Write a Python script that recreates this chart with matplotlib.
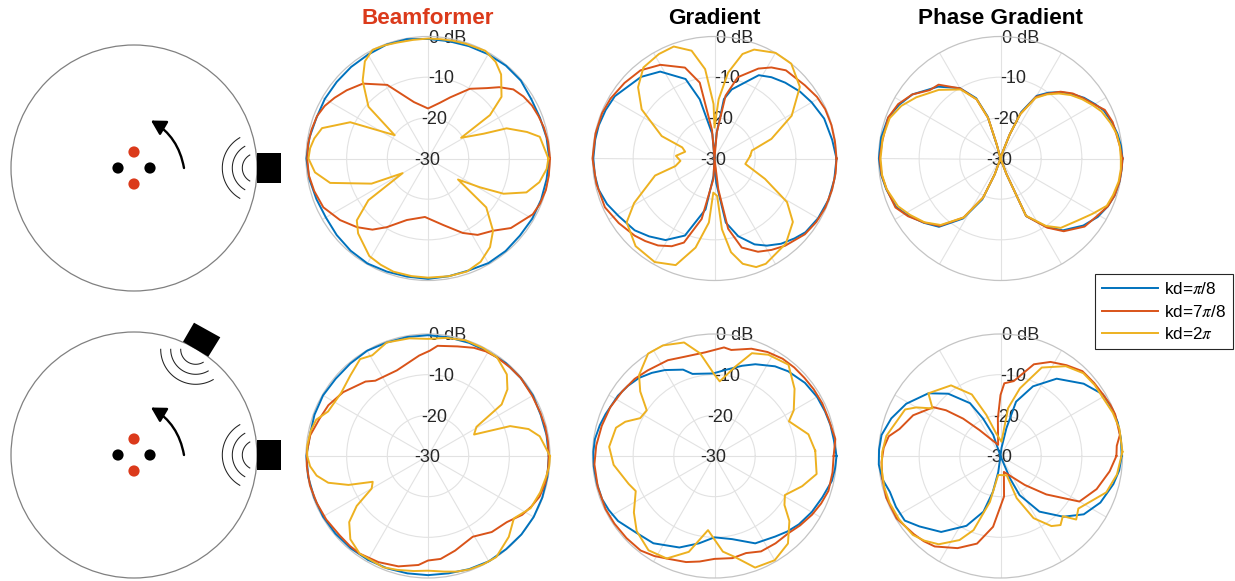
import numpy as np
import matplotlib
matplotlib.use("Agg")
import matplotlib.pyplot as plt
from matplotlib.lines import Line2D
from matplotlib.patches import Circle, FancyArrowPatch, Polygon, Rectangle

plt.rcParams['font.family'] = ['Liberation Sans', 'DejaVu Sans']
plt.rcParams['mathtext.fontset'] = 'stix'

W, H = 1235, 581
BLUE, RED, YELLOW = '#0072BD', '#D95319', '#EDB120'

titles = ['Beamformer', 'Gradient', 'Phase Gradient']
r_labels = ['0 dB', '-10', '-20', '-30']
r_values = [0, -10, -20, -30]
legend_labels = ['kd=$\\pi$/8', 'kd=7$\\pi$/8', 'kd=2$\\pi$']

# beamformer, top row
bf1_blue_th = list(range(0, 360, 10))
bf1_blue_db = [-0.2, -0.4, -0.7, -0.7, -0.2, -0.2, -0.4, -0.6, -0.7, -0.6, -0.2, -0.2, -0.5, -0.6, -0.7, -0.7, -0.8, -0.4, -0.1, -0.4, -0.8, -1, -0.7, -0.4, -0.2, -0.4, -0.5, -0.4, -0.6, -0.7, -0.3, -0.3, -0.5, -0.4, -0.4, -0.4]
bf1_red_th = [0, 8, 15, 21, 27, 33, 39, 45, 50, 59, 70, 78, 90, 104, 119, 131, 140, 147, 153, 159, 166, 173, 180, 188, 196, 205, 215, 224, 232, 239, 251, 267, 283, 295, 303, 312, 320, 332, 338, 345, 352]
bf1_red_db = [0, -0.2, -0.5, -0.9, -1.3, -2, -3, -5.2, -7.4, -10, -14, -16, -17.7, -15.7, -9.3, -5.6, -3.9, -2.6, -1.5, -0.8, -0.5, -0.3, -0.3, -0.4, -0.9, -1.6, -3.6, -5.7, -7.8, -10.3, -14, -15.6, -13.2, -9.8, -7.6, -6.1, -3.4, -0.8, -0.3, 0, 0]
bf1_yel_th = [0, 11, 15, 21, 24, 32, 35, 40, 49, 55, 62, 72, 78, 84, 90, 97, 105, 111, 117, 123, 130, 139, 145, 155, 164, 170, 175, 180, 187, 194, 204, 210, 215, 221, 227, 239, 246, 253, 262, 270, 280, 289, 297, 305, 312, 320, 325, 331, 335, 341, 348, 355]
bf1_yel_db = [-0.4, -2, -4.8, -9.3, -15, -20.4, -11.4, -6.4, -2.6, -1, 0, -0.3, -0.4, -0.5, -0.5, -0.6, -0.5, -0.2, 0, -1.5, -5, -10.6, -20, -8.9, -2.9, -1.6, -0.9, -0.6, -2, -5.2, -14.8, -22.8, -12.1, -6.8, -4.8, -2, -1.4, -0.9, -0.8, -0.7, -0.6, -0.6, -1.5, -3.4, -6.1, -11.3, -21, -15.4, -9.5, -4.4, -2, -0.7]

# gradient, top row
gr1_blue_th = [0, 9, 20, 30, 38, 47, 55, 62, 76, 81, 85, 88, 90, 95, 104, 110, 122, 132, 148, 156, 164, 171, 180, 188, 195, 203, 211, 222, 230, 239, 249, 260, 267, 270, 274, 280, 287, 295, 301, 308, 315, 321, 330, 340, 350]
gr1_blue_db = [0, -0.7, -1.3, -2.4, -3.3, -4.5, -5.6, -6.8, -12.5, -15.2, -23.6, -28, -30, -24, -15, -9.2, -4.8, -3, -1.1, -0.7, -0.4, -0.3, -0.2, -0.3, -0.5, -1.3, -2.5, -3.6, -5, -6.6, -9.7, -17.3, -25.7, -30, -24, -14, -10, -6.7, -5, -3.4, -2.2, -1.2, -0.6, -0.2, -0.1]
gr1_red_th = [0, 8, 16, 24, 31, 39, 51, 58, 64, 74, 80, 85, 90, 95, 101, 108, 120, 130, 140, 150, 158, 168, 180, 192, 204, 214, 224, 230, 237, 244, 250, 258, 267, 270, 277, 281, 287, 295, 302, 309, 320, 328, 336, 345, 353]
gr1_red_db = [0, -0.1, -0.1, -0.2, -0.6, -1.4, -2.1, -3.6, -5.4, -9.2, -14.3, -23.6, -30, -23, -11, -6.5, -3.4, -1.7, -1.1, -0.5, -0.2, -0.1, 0, -0.3, -0.5, -1.6, -2.7, -3.5, -4.5, -6, -8, -14.8, -25, -30, -22.4, -12.4, -7.1, -4.7, -3.5, -2.4, -1, -0.5, -0.2, -0.1, 0]
gr1_yel_th = [4, 12, 19, 29, 40, 51, 60, 70, 75, 81, 86, 90, 91, 96, 102, 110, 118, 128, 137, 146, 157, 161, 167, 176, 184, 191, 196, 209, 216, 228, 240, 250, 258, 265, 268, 274, 276, 280, 285, 291, 296, 310, 321, 329, 338, 350]
gr1_yel_db = [-21.2, -20.6, -15.2, -8.3, -2.6, 0, 0, -1.5, -3.4, -8.6, -15.4, -22.4, -16.6, -7.9, -2.9, -0.7, -0.9, -1.6, -4.3, -8.4, -15.9, -21.6, -22.6, -20.5, -21.6, -20.2, -14.8, -7.4, -3.3, -1, -0.6, -2.1, -7.6, -14.2, -21.6, -20.8, -12.5, -6.6, -3.2, -1.4, -1.2, -2.7, -5.2, -9.2, -16.6, -22.3]

# phase gradient, top row
pg1_blue_th = [0, 6, 12, 18, 25, 30, 36, 42, 48, 54, 60, 66, 69, 71, 90, 105, 107, 112, 120, 131, 144, 152, 160, 170, 180, 188, 195, 205, 212, 220, 228, 238, 246, 250, 270, 291, 294, 304, 311, 321, 329, 336, 342, 349, 355]
pg1_blue_db = [0, -0.2, -0.6, -1.2, -2, -3.2, -4.6, -6.3, -8, -10, -12.2, -17.5, -23.6, -28, -30, -27, -19.2, -14, -10, -6.6, -3.2, -1.8, -0.6, -0.2, -0.1, -0.4, -0.9, -1.7, -3.4, -5.4, -7.4, -12.6, -19, -25.9, -30, -25.9, -14.5, -9.7, -6.6, -3.8, -2.1, -1.1, -0.5, -0.2, -0.1]
pg1_red_th = [0, 6, 12, 18, 25, 30, 36, 42, 48, 54, 60, 66, 69, 71, 90, 105, 107, 112, 120, 130, 136, 144, 152, 160, 172, 180, 188, 195, 205, 212, 220, 228, 238, 246, 250, 270, 291, 294, 304, 311, 321, 329, 336, 342, 349, 355]
pg1_red_db = [0, -0.5, -0.9, -1, -1.7, -3.4, -4.8, -6.1, -7.9, -10.3, -12.5, -18, -23.6, -28, -30, -26.3, -19.6, -14.3, -10.1, -6.3, -5.8, -3.2, -1.5, -0.6, -0.6, -0.3, -0.5, -1, -1.5, -3.2, -5.5, -7.7, -12.9, -19.5, -25.9, -30, -25.9, -14.5, -9.5, -6.3, -3.4, -2.4, -1.1, -0.5, -0.2, -0.1]
pg1_yel_th = [0, 6, 12, 18, 25, 30, 36, 42, 48, 54, 60, 66, 69, 71, 90, 105, 107, 112, 120, 132, 144, 152, 160, 170, 180, 188, 195, 205, 212, 220, 228, 238, 246, 250, 270, 291, 294, 304, 311, 321, 329, 336, 342, 349, 355]
pg1_yel_db = [-0.4, -0.5, -0.8, -1.6, -2.6, -3.8, -5.2, -6.7, -8.5, -10.5, -12.8, -18.1, -23.6, -28, -30, -26.3, -19.6, -14.3, -10.4, -7.3, -4.4, -2.4, -1, -0.6, -0.5, -0.6, -1, -2.2, -3.8, -5.6, -8, -12.9, -19.5, -25.9, -30, -25.9, -14.6, -10, -7.4, -5.7, -3.6, -1.4, -0.9, -0.4, -0.3]

# beamformer, bottom row
bf2_blue_th = list(range(0, 360, 10))
bf2_blue_db = [-0.3, -0.4, -0.5, -0.2, -0.2, -0.2, -0.4, -0.4, -0.4, -0.3, -0.3, -0.3, -0.1, -0.3, -0.4, -0.2, -0.3, -0.5, -0.1, -0.1, -0.2, -0.2, -0.3, -0.4, -0.5, -0.6, -0.7, -0.7, -0.7, -0.4, -0.1, -0.1, 0, 0, -0.1, -0.2]
bf2_red_th = [0, 7, 14, 21, 30, 40, 47, 55, 61, 67, 75, 85, 89, 95, 110, 125, 130, 143, 153, 161, 170, 178, 185, 194, 203, 212, 222, 229, 235, 245, 255, 265, 270, 277, 286, 299, 310, 320, 328, 334, 340, 347, 354]
bf2_red_db = [-0.3, -0.3, -0.3, -0.4, -0.4, -0.2, -0.3, -0.4, -0.6, -1.1, -2.1, -2.8, -4.1, -5.2, -7.6, -7.4, -6.1, -3.9, -2.5, -1.8, -0.6, -0.2, -0.1, -0.1, -0.3, -0.5, -0.8, -0.7, -0.7, -1.2, -1.9, -3.1, -4.3, -4.5, -5.8, -7.3, -5.6, -4.7, -2.7, -1.7, -0.8, -0.4, -0.3]
bf2_yel_th = [0, 10, 15, 20, 25, 31, 35, 40, 46, 55, 63, 72, 81, 90, 99, 110, 119, 125, 134, 144, 156, 162, 168, 175, 180, 185, 190, 195, 200, 205, 210, 215, 220, 227, 235, 248, 255, 263, 270, 278, 284, 290, 297, 304, 315, 324, 333, 342, 350, 355]
bf2_yel_db = [0, -2.1, -4.4, -8.5, -17.5, -16.1, -7.9, -4.5, -2.1, -0.4, -0.2, -0.1, -0.6, -1.2, -0.7, -0.3, -1.7, -0.9, -2.5, -3.6, -3.1, -1.1, -0.5, -0.2, -0.3, -0.9, -2.2, -4.6, -9.2, -15, -14, -8.6, -4.7, -2, -0.7, -0.5, -1, -1.5, -1.8, -1.3, -0.7, -0.3, -0.1, 0, -1.9, -3.9, -1.7, -1, -0.5, -0.1]

# gradient, bottom row
gr2_blue_th = [0, 8, 15, 22, 30, 39, 49, 56, 66, 73, 83, 91, 105, 110, 120, 127, 134, 141, 148, 159, 165, 172, 178, 185, 193, 201, 207, 214, 224, 235, 249, 260, 270, 282, 295, 307, 314, 321, 330, 339, 348, 354]
gr2_blue_db = [0, -0.4, -0.5, -0.7, -0.9, -1.4, -2.4, -3.4, -5.3, -6.8, -8.7, -9.7, -9.1, -7.4, -5.6, -4.4, -3.3, -2.6, -2, -1.3, -0.8, -0.3, -0.2, -0.2, -0.3, -0.4, -0.8, -1.4, -3, -3.8, -5.9, -8.2, -10, -9.1, -6.3, -5.2, -4.2, -3.3, -2.4, -1.6, -0.5, -0.2]
gr2_red_th = [0, 8, 18, 26, 34, 41, 48, 55, 63, 71, 81, 85, 95, 107, 116, 128, 136, 145, 155, 165, 175, 184, 195, 206, 214, 223, 232, 239, 246, 255, 262, 270, 280, 288, 296, 305, 314, 321, 329, 336, 343, 352]
gr2_red_db = [-0.7, 0, -0.5, -0.5, -0.6, -0.7, -0.7, -0.8, -1.3, -2.1, -3.6, -3.2, -4.4, -4.5, -3.8, -3.3, -2.7, -2.3, -1.7, -1.3, -0.8, -0.4, -0.3, -0.2, -0.3, -0.4, -0.5, -1.3, -2.3, -3, -3.8, -4.7, -4.5, -4.9, -3.9, -3.8, -3.7, -2.9, -2, -1.3, -0.7, -0.7]
gr2_yel_th = [3, 13, 25, 30, 40, 51, 62, 70, 77, 86, 90, 98, 105, 115, 123, 133, 139, 146, 153, 159, 164, 175, 185, 198, 204, 215, 224, 235, 245, 255, 265, 275, 281, 290, 300, 310, 319, 325, 331, 341, 350]
gr2_yel_db = [-5.2, -6.3, -9.8, -7.5, -4.3, -1.1, -1.8, -3.1, -7.5, -11.6, -10, -4.5, -1.1, 0, 0, -2.8, -5.8, -9.9, -9.5, -6.5, -4.8, -4, -5.1, -7.8, -8.8, -5.8, -3.4, -1.7, -2.2, -5.6, -11.7, -6.4, -4.8, -0.8, -0.4, -1.9, -5.6, -9, -10.2, -7.2, -4.5]

# phase gradient, bottom row
pg2_blue_th = [0, 8, 16, 23, 31, 41, 54, 65, 74, 78, 83, 90, 109, 115, 120, 130, 139, 151, 161, 170, 177, 184, 191, 198, 206, 214, 221, 232, 244, 253, 258, 262, 270, 293, 296, 305, 316, 325, 335, 346, 353]
pg2_blue_db = [-0.2, -0.1, 0, -0.2, -0.6, -2.9, -6.5, -11.1, -16.1, -23, -28, -30, -24.5, -19.8, -15, -10, -6.5, -3.5, -1.6, -0.3, -0.1, 0, -0.4, -1.4, -1.4, -1.6, -3.6, -6.3, -10.9, -15.7, -21, -26, -30, -24, -19.3, -13.3, -8.5, -5, -2.9, -1.4, -0.6]
pg2_red_th = [0, 5, 10, 20, 25, 31, 38, 46, 54, 62, 70, 80, 87, 90, 94, 102, 129, 135, 140, 144, 155, 165, 170, 176, 183, 191, 200, 211, 222, 228, 234, 245, 255, 264, 275, 282, 310, 320, 330, 341, 352]
pg2_red_db = [-1.5, -1.3, -0.2, 0, -0.2, -0.6, -0.8, -1, -2.4, -3.8, -6, -11.3, -12.1, -15, -20.7, -27.2, -21.8, -17, -12.5, -9.6, -6.3, -4.3, -2.1, -1.2, -0.7, -0.4, -0.1, -0.2, -1.3, -1.8, -2.5, -5, -7.7, -12.5, -20, -26, -20.7, -15.3, -7.6, -5, -2.9]
pg2_yel_th = [2, 13, 21, 29, 37, 45, 54, 65, 74, 81, 86, 101, 109, 115, 125, 139, 145, 150, 154, 170, 178, 186, 195, 203, 212, 222, 228, 235, 244, 250, 257, 263, 288, 291, 298, 306, 311, 316, 320, 326, 341, 351]
pg2_yel_db = [0, 0, -0.4, -1, -1, -1.2, -2.7, -6, -12.7, -18.1, -26.5, -24.3, -19.3, -13.3, -8.8, -6.5, -9.6, -6.1, -3.9, -1.5, -0.9, -0.6, -0.4, -0.4, -0.6, -1, -2, -3.5, -7, -10.6, -18.4, -25.3, -25, -18.9, -12.7, -8.7, -7.5, -8.7, -5.7, -6.9, -2.5, -1]

panels = [
    [[(bf1_blue_th, bf1_blue_db), (bf1_red_th, bf1_red_db), (bf1_yel_th, bf1_yel_db)],
     [(gr1_blue_th, gr1_blue_db), (gr1_red_th, gr1_red_db), (gr1_yel_th, gr1_yel_db)],
     [(pg1_blue_th, pg1_blue_db), (pg1_red_th, pg1_red_db), (pg1_yel_th, pg1_yel_db)]],
    [[(bf2_blue_th, bf2_blue_db), (bf2_red_th, bf2_red_db), (bf2_yel_th, bf2_yel_db)],
     [(gr2_blue_th, gr2_blue_db), (gr2_red_th, gr2_red_db), (gr2_yel_th, gr2_yel_db)],
     [(pg2_blue_th, pg2_blue_db), (pg2_red_th, pg2_red_db), (pg2_yel_th, pg2_yel_db)]],
]


def polar_panel(fig, cx, cy, curves, radius=122):
    ax = fig.add_axes([(cx - radius) / W, 1 - (cy + radius) / H, 2 * radius / W, 2 * radius / H],
                      projection='polar')
    ax.set_ylim(-30, 0)
    ax.set_thetagrids(range(0, 360, 30), labels=[])
    ax.set_rgrids([-20, -10], labels=[])
    ax.grid(color='#e2e2e2', lw=0.8)
    ax.spines['polar'].set_color('#c4c4c4')
    ax.spines['polar'].set_linewidth(0.9)
    ax.tick_params(length=0)
    for (th, db), col in zip(curves, [BLUE, RED, YELLOW]):
        t = np.deg2rad(th + th[:1])
        ax.plot(t, db + db[:1], color=col, lw=1.4, clip_on=False, zorder=4)
    # labels sit a bit to the right of the 90 deg spoke
    for val, lab, dx in zip(r_values, r_labels, [20, 13, 6, -1]):
        ax.annotate(lab, (np.pi / 2, val), xytext=(dx * 0.72, -1.8 * 0.72), textcoords='offset points',
                    ha='center', va='center', fontsize=13, color='#262626', zorder=2,
                    annotation_clip=False)
    return ax


def waves(ax, x, y, direction):
    for r in [15, 25, 35]:
        a = np.deg2rad(np.linspace(direction - 60, direction + 60, 40))
        ax.plot(x + r * np.cos(a), y + r * np.sin(a), color='#222222', lw=0.75)


def scene(ax, cy, second=False):
    cx = 134
    ax.add_patch(Circle((cx, cy), 123, fc='none', ec='#808080', lw=0.9))
    for dx, dy, col in [(-16, 0, 'black'), (16, 0, 'black'), (0, -16, '#DB3A1B'), (0, 16, '#DB3A1B')]:
        ax.add_patch(Circle((cx + dx, cy + dy), 5.6, fc=col, ec='none'))
    ax.add_patch(Rectangle((257, cy - 15), 23.5, 30, fc='black', ec='none'))
    waves(ax, 257.3, cy, 180)
    ax.add_patch(FancyArrowPatch((184, cy), (151, cy - 47.5), connectionstyle='arc3,rad=0.23',
                                 arrowstyle='-|>,head_length=4.6,head_width=2.6', mutation_scale=1.9,
                                 shrinkA=0, shrinkB=0, color='black', lw=1.7))
    if second:
        ax.add_patch(Polygon([(194, 322.7), (220.3, 337.3), (208.3, 356.7), (183, 341.7)], fc='black', ec='none'))
        waves(ax, 195.7, 349.3, 120)


fig = plt.figure(figsize=(W / 100, H / 100), dpi=100)

bg = fig.add_axes([0, 0, 1, 1])
bg.set_xlim(0, W)
bg.set_ylim(H, 0)
bg.axis('off')
scene(bg, 168)
scene(bg, 455, second=True)

xs = [428, 714.5, 1000.5]
ys = [158.5, 456]
for row, cy in enumerate(ys):
    for col, cx in enumerate(xs):
        polar_panel(fig, cx, cy, panels[row][col])

for x, title, col in zip(xs, titles, ['#DB3A1B', 'black', 'black']):
    fig.text(x / W, 1 - 18 / H, title, ha='center', va='center', fontsize=16.2, fontweight='bold', color=col)

handles = [Line2D([], [], color=c, lw=1.4) for c in [BLUE, RED, YELLOW]]
leg = fig.legend(handles, legend_labels, loc='upper left', bbox_to_anchor=(1095 / W, 1 - 274 / H),
                 borderaxespad=0, fontsize=12.3, handlelength=3.25, handletextpad=0.35, labelspacing=0.38,
                 borderpad=0.42, fancybox=False, framealpha=1, edgecolor='#262626')
leg.get_frame().set_linewidth(0.8)

fig.savefig('out.png', dpi=100)
